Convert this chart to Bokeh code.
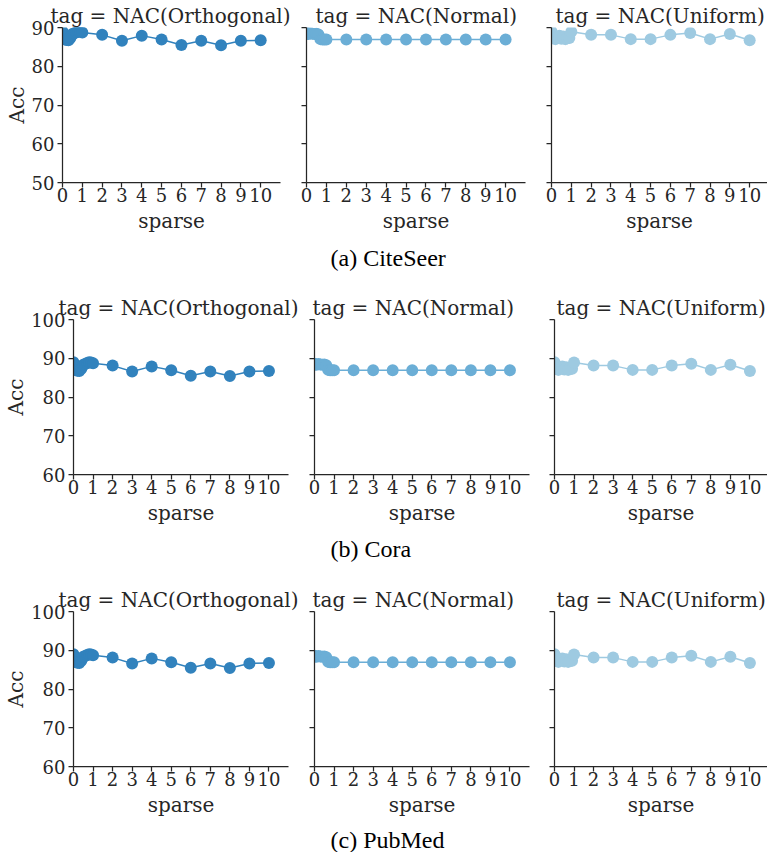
from bokeh.plotting import figure
from bokeh.models import Range1d, FixedTicker, CustomLabelingPolicy
from bokeh.layouts import column, row
from bokeh.embed import file_html
from bokeh.resources import INLINE

# ---- data (the three datasets show the same curves) ----
sparse = [0, 0.1, 0.2, 0.3, 0.4, 0.5, 0.6, 0.7, 0.8, 0.9, 1, 2, 3, 4, 5, 6, 7, 8, 9, 10]
acc_orthogonal = [89.0, 87.0, 86.8, 86.7, 87.3, 88.3, 88.5, 88.8, 89.0, 88.9, 88.7,
                  88.1, 86.6, 87.9, 86.9, 85.5, 86.6, 85.4, 86.6, 86.7]
acc_normal = [88.6, 88.3, 88.5, 88.4, 88.3, 88.4, 88.2, 87.0, 86.9, 86.9, 86.9,
              86.9, 86.9, 86.9, 86.9, 86.9, 86.9, 86.9, 86.9, 86.9]
acc_uniform = [89.0, 87.2, 87.0, 87.4, 87.9, 87.1, 87.7, 87.0, 87.2, 87.3, 88.9,
               88.1, 88.1, 87.0, 87.0, 88.1, 88.6, 87.0, 88.3, 86.7]

tags = ["NAC(Orthogonal)", "NAC(Normal)", "NAC(Uniform)"]
series = [acc_orthogonal, acc_normal, acc_uniform]
colors = ["#3182bd", "#6baed6", "#9ecae1"]
captions = ["(a) CiteSeer", "(b) Cora", "(c) PubMed"]
x_ticks = [0, 1, 2, 3, 4, 5, 6, 7, 8, 9, 10]
y_ticks_citeseer = [50, 60, 70, 80, 90]
y_ticks_other = [60, 70, 80, 90, 100]

# ---- layout constants ----
TXT = "#262626"
SERIF = "'DejaVu Serif', serif"
TIMES = "'Liberation Serif', 'Times New Roman', serif"
FRAME_H = 155
row_specs = [
    dict(ylim=(50, 90), yt=y_ticks_citeseer, left=[62, 6, 6], fw=[218, 219, 216],
         right=[20, 20, 0], xend=[11, 11, 10.9], top=27, bottom=58, toff=[-12, 9, 4]),
    dict(ylim=(60, 100), yt=y_ticks_other, left=[73, 10, 9], fw=[215, 215, 213],
         right=[16, 16, 0], xend=[11, 11, 10.9], top=29, bottom=58, toff=[-15, -2, 2]),
    dict(ylim=(60, 100), yt=y_ticks_other, left=[73, 10, 9], fw=[215, 215, 213],
         right=[16, 16, 0], xend=[11, 11, 10.9], top=29, bottom=58, toff=[-15, -2, 2]),
]
caption_specs = [(50, 30), (50, 29), (28, 27)]  # (figure height, space above caption bottom)

no_labels = CustomLabelingPolicy(code="return []")


def make_panel(spec, c):
    ylo, yhi = spec["ylim"]
    p = figure(frame_width=spec["fw"][c], frame_height=FRAME_H,
               x_range=Range1d(0, spec["xend"][c]), y_range=Range1d(ylo, yhi),
               output_backend="svg", toolbar_location=None,
               title=f"tag = {tags[c]}",
               min_border_left=spec["left"][c], min_border_right=spec["right"][c],
               min_border_top=spec["top"], min_border_bottom=spec["bottom"])
    p.title.align = "left"
    p.title.standoff = 0
    p.title.offset = spec["toff"][c]
    p.title.text_font = SERIF
    p.title.text_font_size = "20px"
    p.title.text_font_style = "normal"
    p.title.text_color = TXT
    p.grid.visible = False
    p.outline_line_color = None
    p.line(sparse, series[c], line_color=colors[c], line_width=1.5)
    p.scatter(sparse, series[c], size=12, fill_color=colors[c], line_color=None)
    for ax in p.axis:
        ax.axis_line_color = TXT
        ax.axis_line_width = 1.25
        ax.major_tick_line_color = TXT
        ax.major_tick_line_width = 1.25
        ax.major_tick_out = 5
        ax.major_tick_in = 0
        ax.minor_tick_out = 0
        ax.minor_tick_in = 0
        ax.major_label_text_font = SERIF
        ax.major_label_text_font_size = "18px"
        ax.major_label_text_color = TXT
        ax.axis_label_text_font = SERIF
        ax.axis_label_text_font_size = "20px"
        ax.axis_label_text_font_style = "normal"
        ax.axis_label_text_color = TXT
    p.xaxis.ticker = FixedTicker(ticks=x_ticks)
    p.xaxis.axis_label = "sparse"
    p.xaxis.major_label_standoff = 0
    p.xaxis.axis_label_standoff = 4
    p.yaxis.ticker = FixedTicker(ticks=spec["yt"])
    if c == 0:
        p.yaxis.axis_label = "Acc"
        p.yaxis.major_label_standoff = 3
        p.yaxis.axis_label_standoff = 0
    else:
        p.yaxis.major_label_text_font_size = "0px"
        p.yaxis.major_label_standoff = 0
        p.yaxis.major_label_policy = no_labels
    return p


def make_caption(text, h, top):
    f = figure(width=767, height=h, x_range=Range1d(0, 1), y_range=Range1d(0, 1),
               output_backend="svg", toolbar_location=None, title=text,
               min_border_left=0, min_border_right=0, min_border_top=top,
               min_border_bottom=0)
    f.axis.visible = False
    f.grid.visible = False
    f.outline_line_color = None
    f.title.align = "left"
    f.title.offset = 330
    f.title.standoff = 0
    f.title.text_font = TIMES
    f.title.text_font_size = "24px"
    f.title.text_font_style = "normal"
    f.title.text_color = "black"
    return f


blocks = []
for r, spec in enumerate(row_specs):
    blocks.append(row(*[make_panel(spec, c) for c in range(3)]))
    h, top = caption_specs[r]
    blocks.append(make_caption(captions[r], h, top))

p = column(*blocks)
open("out.html", "w").write(file_html(p, INLINE))
